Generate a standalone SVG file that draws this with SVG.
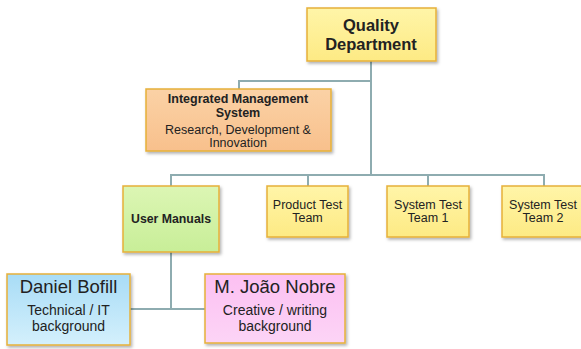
<svg xmlns="http://www.w3.org/2000/svg" width="581" height="349" viewBox="0 0 581 349">
<style>
.box{stroke:#e6b038;stroke-width:1.5;filter:url(#sh)}
.con{fill:none;stroke:#8eacb0;stroke-width:2}
text{font-family:"Liberation Sans",Arial,sans-serif;fill:#222;text-anchor:middle}
.b{font-weight:bold}
</style>
<defs>
<filter id="sh" x="-10%" y="-10%" width="130%" height="140%"><feDropShadow dx="1.5" dy="2" stdDeviation="1.5" flood-color="#000" flood-opacity="0.3"/></filter>
<linearGradient id="gy" x1="0" y1="0" x2="0" y2="1"><stop offset="0" stop-color="#fff5a8"/><stop offset="1" stop-color="#fdea84"/></linearGradient>
<linearGradient id="go" x1="0" y1="0" x2="0" y2="1"><stop offset="0" stop-color="#fbd2a6"/><stop offset="1" stop-color="#f8c08c"/></linearGradient>
<linearGradient id="gg" x1="0" y1="0" x2="0" y2="1"><stop offset="0" stop-color="#dcf6b4"/><stop offset="1" stop-color="#c8ee98"/></linearGradient>
<linearGradient id="gb" x1="0" y1="0" x2="0" y2="1"><stop offset="0" stop-color="#a8dcf6"/><stop offset="1" stop-color="#d4f0fc"/></linearGradient>
<linearGradient id="gp" x1="0" y1="0" x2="0" y2="1"><stop offset="0" stop-color="#fcc0f2"/><stop offset="1" stop-color="#fcd4f6"/></linearGradient>
</defs>
<rect width="581" height="349" fill="#ffffff"/>
<g id="connectors">
<path class="con" d="M371 61 V175"/>
<path class="con" d="M239 89 V81 H371"/>
<path class="con" d="M171 186 V175 H544 V186"/>
<path class="con" d="M308 175 V186"/>
<path class="con" d="M428 175 V186"/>
<path class="con" d="M171 252 V309"/>
<path class="con" d="M130 309 H205"/>
</g>
<g id="quality-department">
<rect class="box" x="307" y="8" width="129" height="53" fill="url(#gy)"/>
<text class="b" x="371" y="31" font-size="16.5">Quality</text>
<text class="b" x="371" y="50" font-size="16.5">Department</text>
</g>
<g id="ims">
<rect class="box" x="146" y="89" width="185" height="62" fill="url(#go)"/>
<text class="b" x="238" y="103" font-size="12.5">Integrated Management</text>
<text class="b" x="238" y="117" font-size="12.5">System</text>
<text x="238" y="134" font-size="12.5">Research, Development &amp;</text>
<text x="238" y="147" font-size="12.5">Innovation</text>
</g>
<g id="user-manuals">
<rect class="box" x="123" y="186" width="96" height="66" fill="url(#gg)"/>
<text class="b" x="171" y="223" font-size="12.3">User Manuals</text>
</g>
<g id="product-test-team">
<rect class="box" x="267" y="186" width="81" height="51" fill="url(#gy)"/>
<text x="307.5" y="209" font-size="12.5">Product Test</text>
<text x="307.5" y="222" font-size="12.5">Team</text>
</g>
<g id="system-test-team-1">
<rect class="box" x="387" y="186" width="82" height="51" fill="url(#gy)"/>
<text x="428" y="209" font-size="12.5">System Test</text>
<text x="428" y="222" font-size="12.5">Team 1</text>
</g>
<g id="system-test-team-2">
<rect class="box" x="502" y="186" width="82" height="51" fill="url(#gy)"/>
<text x="543" y="209" font-size="12.5">System Test</text>
<text x="543" y="222" font-size="12.5">Team 2</text>
</g>
<g id="daniel-bofill">
<rect class="box" x="7" y="274" width="123" height="71" fill="url(#gb)"/>
<text x="68.5" y="293" font-size="18.5">Daniel Bofill</text>
<text x="68.5" y="315" font-size="14">Technical / IT</text>
<text x="68.5" y="331" font-size="14">background</text>
</g>
<g id="joao-nobre">
<rect class="box" x="205" y="274" width="140" height="69" fill="url(#gp)"/>
<text x="275" y="293" font-size="18.5">M. João Nobre</text>
<text x="275" y="315" font-size="14">Creative / writing</text>
<text x="275" y="331" font-size="14">background</text>
</g>
</svg>
